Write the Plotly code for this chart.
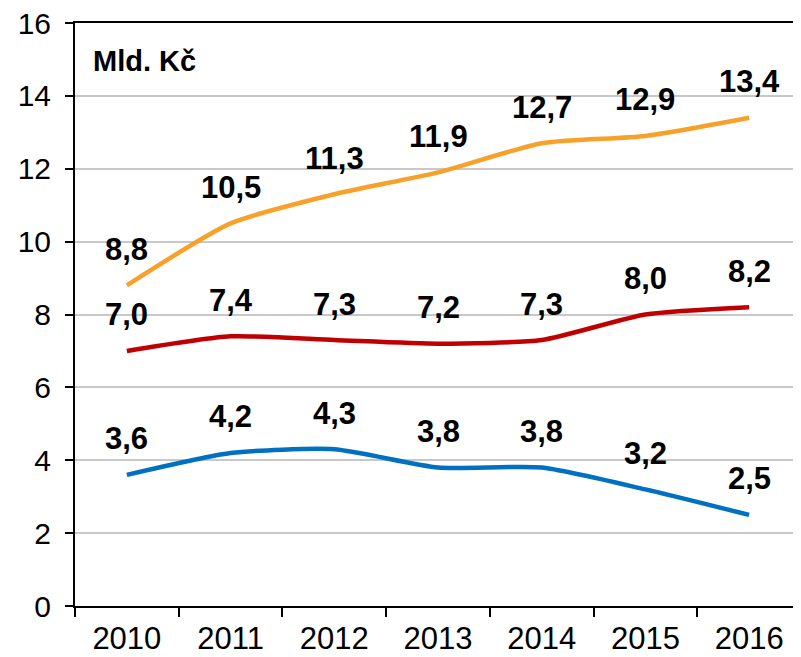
import plotly.graph_objects as go

years = ["2010", "2011", "2012", "2013", "2014", "2015", "2016"]
orange_vals = [8.8, 10.5, 11.3, 11.9, 12.7, 12.9, 13.4]
red_vals = [7.0, 7.4, 7.3, 7.2, 7.3, 8.0, 8.2]
blue_vals = [3.6, 4.2, 4.3, 3.8, 3.8, 3.2, 2.5]

series = [
    (orange_vals, "#F7A12B"),
    (red_vals, "#C00000"),
    (blue_vals, "#0070C0"),
]

font_family = "Liberation Sans, Arial, sans-serif"

fig = go.Figure()
annotations = []
for vals, color in series:
    fig.add_trace(go.Scatter(
        x=years,
        y=vals,
        mode="lines",
        line=dict(color=color, width=4.5, shape="spline", smoothing=0.6),
        showlegend=False,
        hoverinfo="skip",
    ))
    # category index as x, so "2010" is not read as a number
    for i, v in enumerate(vals):
        annotations.append(dict(
            x=i, y=v, xref="x", yref="y",
            text="<b>" + f"{v:.1f}".replace(".", ",") + "</b>",
            showarrow=False,
            yshift=36,
            font=dict(family=font_family, size=31, color="black"),
        ))

annotations.append(dict(
    x=0.022, y=0.935, xref="paper", yref="paper",
    xanchor="left", yanchor="middle",
    text="<b>Mld. Kč</b>",
    showarrow=False,
    font=dict(family=font_family, size=29, color="black"),
))

# page body has an 8px margin, so the figure is a bit smaller than the window
fig.update_layout(
    width=793,
    height=649,
    margin=dict(l=67, r=0, t=15, b=51),
    paper_bgcolor="white",
    plot_bgcolor="white",
    font=dict(family=font_family, size=30, color="black"),
    annotations=annotations,
)

fig.update_xaxes(
    type="category",
    range=[-0.5, 6.5],
    automargin=False,
    showline=True,
    linecolor="black",
    linewidth=2,
    mirror=True,
    ticks="outside",
    tickson="boundaries",
    ticklen=9,
    tickwidth=2,
    tickcolor="black",
    showgrid=False,
    tickfont=dict(size=31),
    ticklabelstandoff=4,
    ticklabeloverflow="allow",
)

fig.update_yaxes(
    range=[0, 16],
    dtick=2,
    automargin=False,
    showline=True,
    linecolor="black",
    linewidth=2,
    ticks="outside",
    ticklen=8,
    tickwidth=2,
    tickcolor="black",
    showgrid=True,
    gridcolor="#C8C8C8",
    gridwidth=1.5,
    zeroline=False,
    tickfont=dict(size=30),
    ticklabelstandoff=8,
    ticklabeloverflow="allow",
)

fig.write_html("out.html")
